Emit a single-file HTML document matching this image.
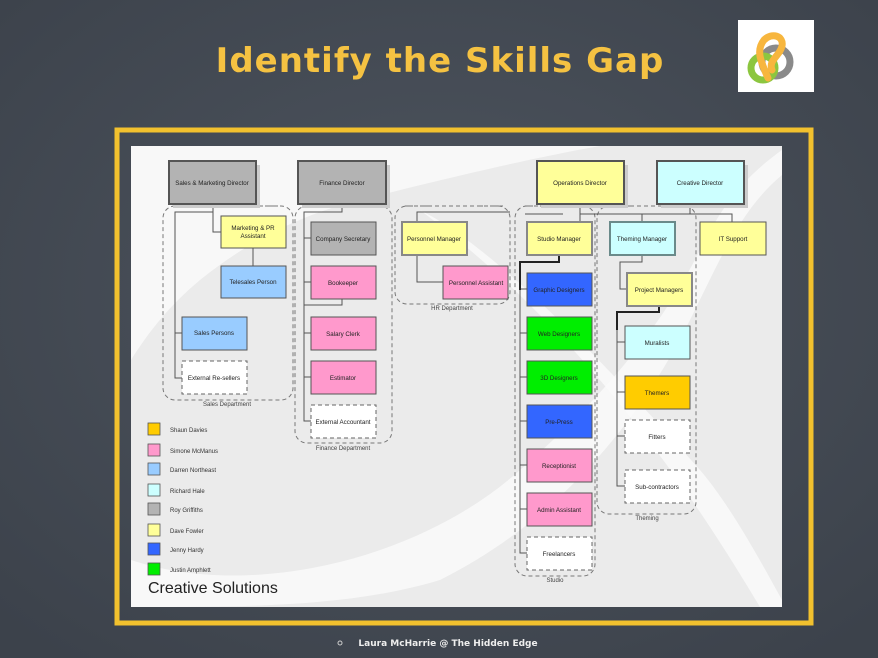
<!DOCTYPE html>
<html><head><meta charset="utf-8"><style>
html,body{margin:0;padding:0;background:#434a54;}
svg{display:block}
text{font-family:"Liberation Sans",sans-serif;}
</style></head><body>
<svg width="878" height="658" viewBox="0 0 878 658" xmlns="http://www.w3.org/2000/svg">
<defs>
<radialGradient id="bg" cx="50%" cy="45%" r="70%"><stop offset="0" stop-color="#4e555f"/><stop offset="1" stop-color="#3c424b"/></radialGradient>
</defs>
<rect width="878" height="658" fill="url(#bg)"/>
<text x="440" y="72" text-anchor="middle" font-size="34" font-weight="bold" fill="#f5c242" style="font-family:'DejaVu Sans',sans-serif;letter-spacing:1px">Identify the Skills Gap</text>
<rect x="738" y="20" width="76" height="72" fill="#fff"/>
<g fill="none" stroke-width="7" stroke-linecap="round">
<circle cx="776" cy="62" r="14" stroke="#8a8a8a"/>
<circle cx="763" cy="68" r="12" stroke="#8cc63f"/>
<path d="M768 78 C760 60 756 50 764 40 C772 32 784 36 782 46 C780 56 768 60 772 70" stroke="#f7b63e"/>
</g>
<rect x="117" y="130" width="694" height="493" fill="none" stroke="#f2c12e" stroke-width="5"/>
<rect x="131" y="146" width="651" height="461" fill="#ebebeb"/>
<g fill="#fafafa">
<path d="M131 146 L600 146 C520 160 420 185 360 200 C300 215 250 240 200 280 C170 305 150 330 131 360 Z" opacity="0.9"/>
<path d="M131 560 C250 600 420 560 520 470 C600 400 660 330 700 250 C720 210 740 180 782 150 L782 175 C740 210 720 260 690 320 C640 420 560 520 440 580 C350 607 250 607 131 607 Z" opacity="0.85"/>
<path d="M420 210 C500 250 620 380 700 470 C730 505 760 560 782 600 L782 607 L760 607 C720 540 680 480 640 430 C580 350 500 270 420 210 Z" opacity="0.85"/>
</g>
<g fill="none" stroke="#777" stroke-width="1" stroke-dasharray="4,3">
<rect x="163" y="206" width="130" height="194" rx="12"/>
<rect x="295" y="206" width="97" height="237" rx="12"/>
<rect x="395" y="206" width="115" height="98" rx="12"/>
<rect x="515" y="206" width="80" height="370" rx="12"/>
<rect x="597" y="206" width="99" height="308" rx="12"/>
</g>
<g font-size="6" fill="#444" text-anchor="middle">
<text x="227" y="406">Sales Department</text>
<text x="343" y="450">Finance Department</text>
<text x="452" y="310">HR Department</text>
<text x="555" y="582">Studio</text>
<text x="647" y="520">Theming</text>
</g>
<g fill="none" stroke="#555" stroke-width="1">
<path d="M213 204 V212 H175 V378 H182 M175 333 H182 M213 212 V232 H221 M253 248 V266"/>
<path d="M342 204 V212 H304 V421 H311 M304 238 H311 M304 282 H311 M304 333 H311 M304 377 H311 M342 299 V305 H304"/>
<path d="M417 222 V212 H510 M417 255 V282 H443"/>
<path d="M580 204 V214 H690 V204 M580 214 V222 M642 214 V222 M732 222 V214 H690 M563 214 H525"/>
<path d="M559 255 V262 H520 V553 H527 M520 289 H527 M520 333 H527 M520 377 H527 M520 421 H527 M520 465 H527 M520 509 H527"/>
<path d="M642 255 V262 H620 V289 H627 M659 306 V312 H617 V486 H625 M617 342 H625 M617 392 H625 M617 436 H625"/>
</g>
<g stroke="#222" stroke-width="2" fill="none"><path d="M559 255 V262 H520 V290 M659 306 V312 H617 V330"/></g>
<g stroke="#777" stroke-dasharray="3,2"><path d="M175 206 H205 M240 206 H280 M306 206 H336 M360 206 H385 M405 206 H430 M480 206 H505 M525 206 H555 M598 206 H630 M670 206 H690"/></g>
<g font-size="6.2" text-anchor="middle" fill="#222" stroke-width="1">
<g stroke="#555">
<rect x="173" y="165" width="87" height="43" fill="#ccc" stroke="none"/>
<rect x="169" y="161" width="87" height="43" fill="#b3b3b3" stroke-width="2"/>
<rect x="302" y="165" width="88" height="43" fill="#ccc" stroke="none"/>
<rect x="298" y="161" width="88" height="43" fill="#b3b3b3" stroke-width="2"/>
<rect x="541" y="165" width="87" height="43" fill="#ccc" stroke="none"/>
<rect x="537" y="161" width="87" height="43" fill="#ffff99" stroke-width="2"/>
<rect x="661" y="165" width="87" height="43" fill="#ccc" stroke="none"/>
<rect x="657" y="161" width="87" height="43" fill="#ccffff" stroke-width="2"/>
<rect x="221" y="216" width="65" height="32" fill="#ffff99"/>
<rect x="221" y="266" width="65" height="32" fill="#99ccff"/>
<rect x="182" y="317" width="65" height="33" fill="#99ccff"/>
<rect x="311" y="222" width="65" height="33" fill="#b3b3b3"/>
<rect x="311" y="266" width="65" height="33" fill="#ff99cc"/>
<rect x="311" y="317" width="65" height="33" fill="#ff99cc"/>
<rect x="311" y="361" width="65" height="33" fill="#ff99cc"/>
<rect x="402" y="222" width="65" height="33" fill="#ffff99" stroke="#888" stroke-width="2"/>
<rect x="443" y="266" width="65" height="33" fill="#ff99cc"/>
<rect x="527" y="222" width="65" height="33" fill="#ffff99" stroke="#888" stroke-width="2"/>
<rect x="527" y="273" width="65" height="33" fill="#3366ff"/>
<rect x="527" y="317" width="65" height="33" fill="#00ee00"/>
<rect x="527" y="361" width="65" height="33" fill="#00ee00"/>
<rect x="527" y="405" width="65" height="33" fill="#3366ff"/>
<rect x="527" y="449" width="65" height="33" fill="#ff99cc"/>
<rect x="527" y="493" width="65" height="33" fill="#ff99cc"/>
<rect x="610" y="222" width="65" height="33" fill="#ccffff" stroke="#6a8a8a" stroke-width="2"/>
<rect x="627" y="273" width="65" height="33" fill="#ffff99" stroke="#888" stroke-width="2"/>
<rect x="625" y="326" width="65" height="33" fill="#ccffff"/>
<rect x="625" y="376" width="65" height="33" fill="#ffcc00"/>
<rect x="700" y="222" width="66" height="33" fill="#ffff99"/>
</g>
<g stroke="#666" stroke-dasharray="4,3" fill="#fff">
<rect x="182" y="361" width="65" height="33"/>
<rect x="311" y="405" width="65" height="33"/>
<rect x="527" y="537" width="65" height="33"/>
<rect x="625" y="420" width="65" height="33"/>
<rect x="625" y="470" width="65" height="33"/>
</g>
<text x="212" y="185">Sales &amp; Marketing Director</text>
<text x="342" y="185">Finance Director</text>
<text x="580" y="185">Operations Director</text>
<text x="700" y="185">Creative Director</text>
<text x="253" y="230">Marketing &amp; PR</text><text x="253" y="238">Assistant</text>
<text x="253" y="284">Telesales Person</text>
<text x="214" y="335">Sales Persons</text>
<text x="214" y="380">External Re-sellers</text>
<text x="343" y="241">Company Secretary</text>
<text x="343" y="285">Bookeeper</text>
<text x="343" y="336">Salary Clerk</text>
<text x="343" y="380">Estimator</text>
<text x="343" y="424">External Accountant</text>
<text x="434" y="241">Personnel Manager</text>
<text x="476" y="285">Personnel Assistant</text>
<text x="559" y="241">Studio Manager</text>
<text x="559" y="292">Graphic Designers</text>
<text x="559" y="336">Web Designers</text>
<text x="559" y="380">3D Designers</text>
<text x="559" y="424">Pre-Press</text>
<text x="559" y="468">Receptionist</text>
<text x="559" y="512">Admin Assistant</text>
<text x="559" y="556">Freelancers</text>
<text x="642" y="241">Theming Manager</text>
<text x="659" y="292">Project Managers</text>
<text x="657" y="345">Muralists</text>
<text x="657" y="395">Themers</text>
<text x="657" y="439">Fitters</text>
<text x="657" y="489">Sub-contractors</text>
<text x="733" y="241">IT Support</text>
</g>
<g stroke="#555" stroke-width="0.8">
<rect x="148" y="423" width="12" height="12" fill="#ffcc00"/>
<rect x="148" y="444" width="12" height="12" fill="#ff99cc"/>
<rect x="148" y="463" width="12" height="12" fill="#99ccff"/>
<rect x="148" y="484" width="12" height="12" fill="#ccffff"/>
<rect x="148" y="503" width="12" height="12" fill="#b3b3b3"/>
<rect x="148" y="524" width="12" height="12" fill="#ffff99"/>
<rect x="148" y="543" width="12" height="12" fill="#3366ff"/>
<rect x="148" y="563" width="12" height="12" fill="#00ee00"/>
</g>
<g font-size="6" fill="#333">
<text x="170" y="432">Shaun Davies</text>
<text x="170" y="453">Simone McManus</text>
<text x="170" y="472">Darren Northeast</text>
<text x="170" y="493">Richard Hale</text>
<text x="170" y="512">Roy Griffiths</text>
<text x="170" y="533">Dave Fowler</text>
<text x="170" y="552">Jenny Hardy</text>
<text x="170" y="572">Justin Amphlett</text>
</g>
<text x="148" y="593" font-size="16" fill="#222">Creative Solutions</text>
<circle cx="340" cy="643" r="2" fill="none" stroke="#ccc"/>
<text x="448" y="646" text-anchor="middle" font-size="9" font-weight="bold" fill="#eee" style="font-family:'DejaVu Sans',sans-serif">Laura McHarrie @ The Hidden Edge</text>
</svg>
</body></html>
